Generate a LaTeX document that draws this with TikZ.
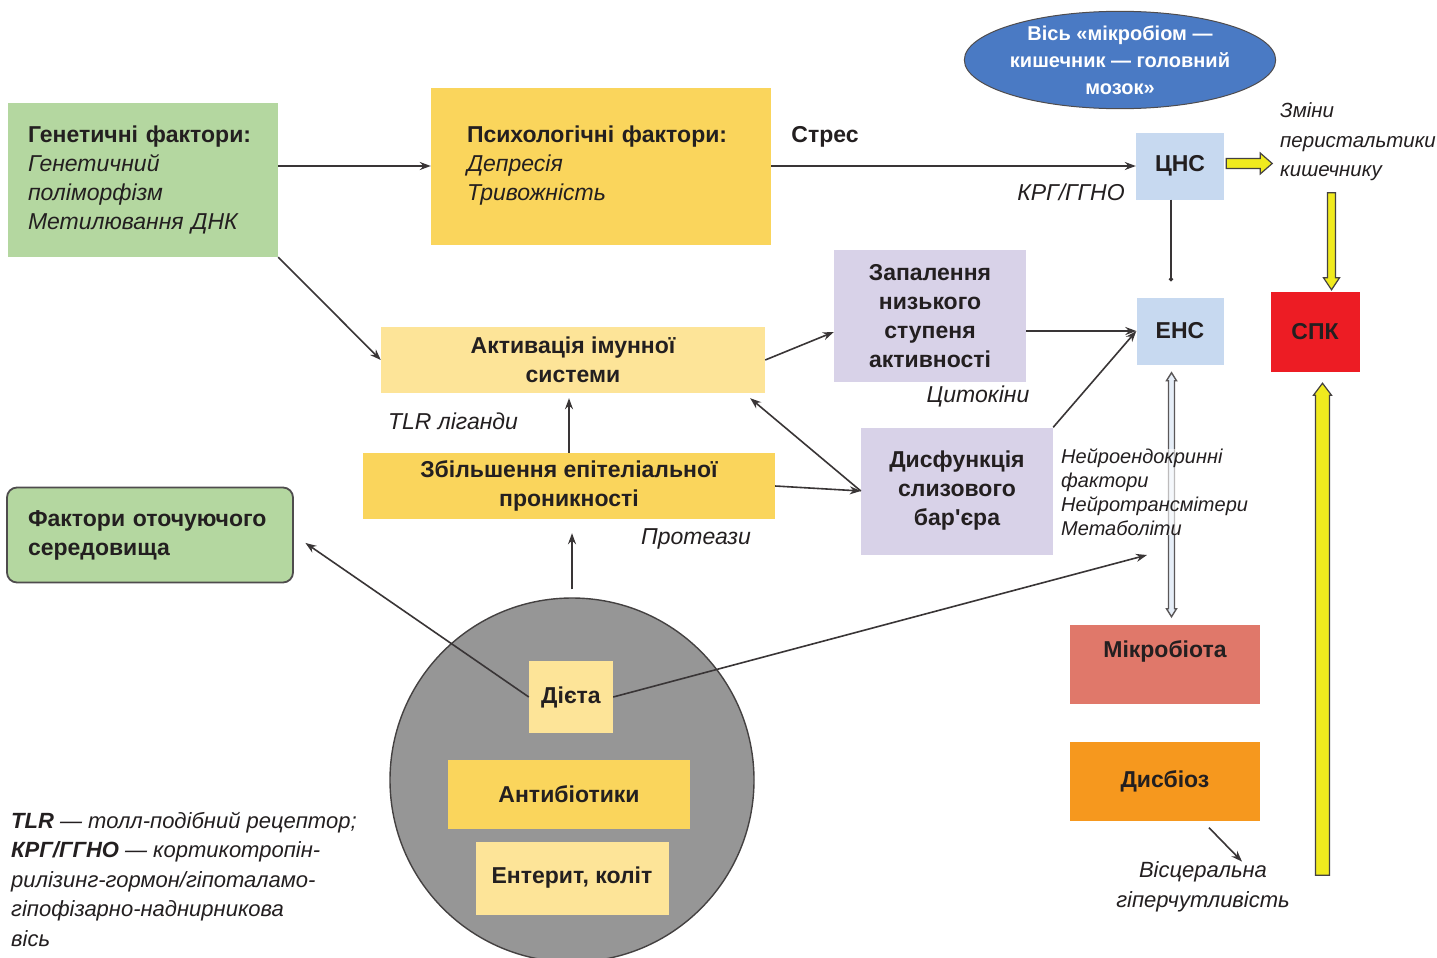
\documentclass[tikz,border=0pt]{standalone}
\usepackage{fontspec}
\setmainfont{Liberation Sans}
\usepackage{xcolor}
\usepackage{tikz}
\usetikzlibrary{arrows.meta,positioning,shapes.geometric}

\definecolor{ink}{RGB}{35,31,32}
\definecolor{leafgreen}{RGB}{180,215,160}
\definecolor{sunyellow}{RGB}{250,213,92}
\definecolor{paleyellow}{RGB}{253,228,152}
\definecolor{lilac}{RGB}{216,210,232}
\definecolor{skyblue}{RGB}{199,217,240}
\definecolor{axisblue}{RGB}{74,122,196}
\definecolor{spkred}{RGB}{237,28,36}
\definecolor{biotared}{RGB}{224,120,106}
\definecolor{dysorange}{RGB}{246,152,30}
\definecolor{stonegray}{RGB}{150,150,150}
\definecolor{arrowyel}{RGB}{240,234,30}

\begin{document}
\begin{tikzpicture}[
  x=1pt, y=-1pt,
  bx/.style={rectangle, inner sep=0pt, align=center, text=ink,
             font=\bfseries\fontsize{23}{29}\selectfont},
  lbl/.style={inner sep=0pt, text=ink, font=\itshape\fontsize{23}{29}\selectfont},
  arr/.style={-{Stealth[length=11pt,width=8pt]}, line width=1.6pt, draw=ink!90},
  fatarr/.style={draw=ink!85, fill=arrowyel, line width=1.2pt, line join=miter}
]
\fill[white] (0,0) rectangle (1437,958);
\useasboundingbox (0,0) rectangle (1437,958);

% Factors in the gray circle
\node[circle, draw=ink!85, line width=1.4pt, fill=stonegray,
      minimum size=364pt, inner sep=0pt] (circ) at (572,780) {};
\node[bx, fill=paleyellow, minimum width=84pt, minimum height=72pt] (diet) at (571,697) {Дієта};
\node[bx, fill=sunyellow, minimum width=242pt, minimum height=69pt] (antib) at (569,794) {Антибіотики};
\node[bx, fill=paleyellow, minimum width=193pt, minimum height=73pt] (enter) at (572,878) {Ентерит, коліт};

% Left column
\node[bx, fill=leafgreen, minimum width=270pt, minimum height=154pt,
      text width=230pt, align=left] (gen) at (143,180)
  {Генетичні фактори:\\\mdseries\itshape Генетичний\\поліморфізм\\Метилювання ДНК};
\node[bx, fill=leafgreen, draw=ink!80, line width=1.8pt, rounded corners=10pt,
      minimum width=286pt, minimum height=95pt, text width=244pt, align=left] (envf) at (150,535)
  {Фактори оточуючого\\середовища};

% Middle
\node[bx, fill=sunyellow, minimum width=340pt, minimum height=157pt,
      text width=268pt, align=left] (psy) at (601,166)
  {Психологічні фактори:\\\mdseries\itshape Депресія\\Тривожність};
\node[bx, fill=paleyellow, minimum width=384pt, minimum height=66pt] (immune) at (573,360)
  {Активація імунної\\системи};
\node[bx, fill=sunyellow, minimum width=412pt, minimum height=66pt] (epith) at (569,486)
  {Збільшення епітеліальної\\проникності};
\node[bx, fill=lilac, minimum width=192pt, minimum height=132pt] (inflam) at (930,316)
  {Запалення\\низького\\ступеня\\активності};
\node[bx, fill=lilac, minimum width=192pt, minimum height=127pt] (barrier) at (957,491)
  {Дисфункція\\слизового\\бар\textquotesingle єра};

% Right part
\node[ellipse, draw=ink!80, line width=1pt, fill=axisblue, minimum width=302pt,
      minimum height=96pt, inner sep=0pt, align=center, text=white,
      font=\bfseries\fontsize{20}{27}\selectfont] (axis) at (1120,60)
  {Вісь «мікробіом —\\кишечник — головний\\мозок»};
\node[bx, fill=skyblue, minimum width=88pt, minimum height=67pt] (cns) at (1180,166) {ЦНС};
\node[bx, fill=skyblue, minimum width=87pt, minimum height=67pt] (enc) at (1180,331) {ЕНС};
\node[bx, fill=spkred, minimum width=89pt, minimum height=80pt] (ibs) at (1315,332) {СПК};
\node[bx, fill=biotared, minimum width=190pt, minimum height=79pt] (micro) at (1165,664)
  {Мікробіота\\\mbox{}};
\node[bx, fill=dysorange, minimum width=190pt, minimum height=79pt] (dysb) at (1165,781) {Дисбіоз};

% Labels
\node[lbl] (stress) at (825,137) {\upshape\bfseries Стрес};
\node[lbl] (crh) at (1071,192) {КРГ/ГГНО};
\node[lbl, anchor=west, align=left, font=\itshape\fontsize{20.5}{29.5}\selectfont] (motil) at (1280,142)
  {Зміни\\перистальтики\\кишечнику};
\node[lbl] (cyto) at (978,396) {Цитокіни};
\node[lbl] (tlr) at (453,421) {TLR ліганди};
\node[lbl] (prot) at (696,539) {Протеази};
\node[lbl, align=center, font=\itshape\fontsize{22}{30}\selectfont] (visc) at (1203,887)
  {Вісцеральна\\гіперчутливість};
\node[lbl, anchor=north west, align=left, font=\itshape\fontsize{22}{29.5}\selectfont] (legend) at (11,812)
  {\bfseries TLR\mdseries{} — толл-подібний рецептор;\\\bfseries КРГ/ГГНО\mdseries{} — кортикотропін-\\рилізинг-гормон/гіпоталамо-\\гіпофізарно-наднирникова\\вісь};

% Double arrow ENS <-> microbiota
\filldraw[draw=ink!75, fill=skyblue!45, line width=1.4pt]
  ([xshift=-8.5pt,yshift=-8pt]enc.south) -- ++(5,8) -- ++(-2,0) -- ++(0,228) -- ++(2,0)
  -- ++(-5,8) -- ++(-5,-8) -- ++(2,0) -- ++(0,-228) -- ++(-2,0) -- cycle;
\node[lbl, anchor=west, align=left, fill=white, fill opacity=.6, text opacity=1,
      font=\itshape\fontsize{20}{24}\selectfont] (neuro) at (1061,492)
  {Нейроендокринні\\фактори\\Нейротрансмітери\\Метаболіти};

% Yellow arrows
\filldraw[fatarr] ([xshift=48pt,yshift=2.5pt]cns.east) -- ++(-12,-10.5) -- ++(0,5.5)
  -- ++(-34,0) -- ++(0,10) -- ++(34,0) -- ++(0,5.5) -- cycle;
\filldraw[fatarr] ([xshift=16.5pt,yshift=2pt]ibs.north) -- ++(-8,-12) -- ++(4,0)
  -- ++(0,-85) -- ++(8,0) -- ++(0,85) -- ++(4,0) -- cycle;
\filldraw[fatarr] ([xshift=7.5pt,yshift=-11pt]ibs.south) -- ++(9,12) -- ++(-2,0)
  -- ++(0,480) -- ++(-14,0) -- ++(0,-480) -- ++(-2,0) -- cycle;

% Connectors
\draw[arr] (gen.east |- psy.west) -- (psy.west);
\draw[arr] (psy.east |- cns.west) -- (cns.west);
\draw[line width=1.6pt, draw=ink!90, shorten >=16pt, -{Circle[length=4pt]}]
  ([xshift=-9pt]cns.south) -- ([xshift=-9pt]enc.north);
\draw[arr] (inflam.east |- enc.west) -- (enc.west);
\draw[arr] (barrier.north east) -- (enc.west);
\draw[arr] (gen.south east) -- (immune.west);
\draw[arr] (immune.east) -- ([yshift=-16pt]inflam.west);
\draw[arr] (barrier.west) -- ([xshift=-15pt,yshift=-5pt]immune.south east);
\draw[arr] (epith.east) -- (barrier.west);
\draw[arr, shorten >=5pt] (epith.north) -- (epith.north |- immune.south);
\draw[arr, shorten <=8pt, shorten >=14pt] (circ.north) -- (circ.north |- epith.south);
\draw[arr, shorten >=14pt] (diet.west) -- (envf.east);
\coordinate (metab) at (1147,555);
\draw[arr] (diet.east) -- (metab);
\draw[arr] ([xshift=44pt,yshift=-7pt]dysb.south) -- ([xshift=39pt]visc.north);
\end{tikzpicture}
\end{document}
